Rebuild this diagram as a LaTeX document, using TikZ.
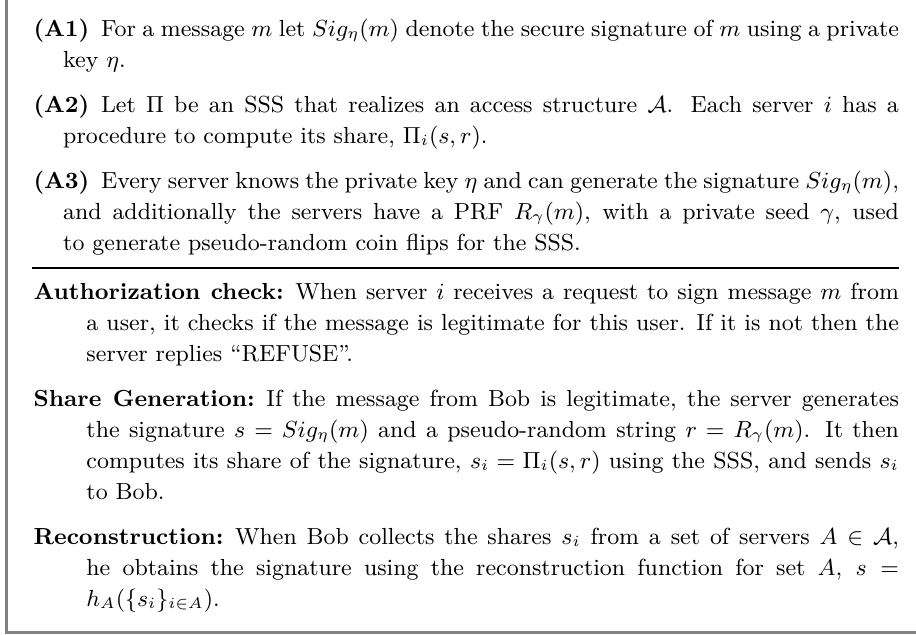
\documentclass[tikz,border=0pt]{standalone}
\usepackage{amsmath,amssymb}

% one paragraph with a bold label and a hanging indent
\newcommand{\hangitem}[3]{\noindent\hangindent=#1\hangafter=1\textbf{#2}\enspace #3\par}

\begin{document}
\begin{tikzpicture}[x=0.3871pt,y=-0.3871pt]
    \tikzset{
        para/.style={anchor=base west, inner sep=0pt, text width=335pt, align=justify,
            font=\fontsize{9pt}{12pt}\selectfont},
    }
    \def\leftX{33}

    \useasboundingbox (0,0) rectangle (916,635);

    % frame (left and bottom edges)
    \draw[gray, line width=0.8pt] (6.5,-10) -- (6.5,632.5) -- (930,632.5);

    \node[para] (a1) at (\leftX,36) {\hangitem{11.5pt}{(A1)}{For a message $m$ let $Sig_\eta(m)$ denote the secure signature of $m$ using a private\linebreak key $\eta$.}};
    \node[para] (a2) at (\leftX,112) {\hangitem{11.5pt}{(A2)}{Let $\Pi$ be an SSS that realizes an access structure $\mathcal{A}$.  Each server $i$ has a\linebreak procedure to compute its share, $\Pi_i(s,r)$.}};
    \node[para] (a3) at (\leftX,188) {\hangitem{11.5pt}{(A3)}{Every server knows the private key $\eta$ and can generate the signature $Sig_\eta(m)$,\linebreak and additionally the servers have a PRF $R_\gamma(m)$, with a private seed $\gamma$, used\linebreak to generate pseudo-random coin flips for the SSS.}};

    \draw[line width=0.45pt] (32,268) -- (899,268);

    \node[para] (auth) at (\leftX,299) {\hangitem{20.5pt}{Authorization check:}{When server $i$ receives a request to sign message $m$ from\linebreak a user, it checks if the message is legitimate for this user. If it is not then the\linebreak server replies ``REFUSE''.}};
    \node[para] (share) at (\leftX,406) {\hangitem{20.5pt}{Share Generation:}{If the message from Bob is legitimate, the server generates\linebreak the signature $s = Sig_\eta(m)$ and a pseudo-random string $r = R_\gamma(m)$. It then\linebreak computes its share of the signature, $s_i = \Pi_i(s,r)$ using the SSS, and sends $s_i$\linebreak to Bob.}};
    \node[para] (recon) at (\leftX,544) {\hangitem{20.5pt}{Reconstruction:}{When Bob collects the shares $s_i$ from a set of servers $A \in \mathcal{A}$,\linebreak he obtains the signature using the reconstruction function for set $A$, $s =$\linebreak $h_A(\{s_i\}_{i\in A})$.}};
\end{tikzpicture}
\end{document}
